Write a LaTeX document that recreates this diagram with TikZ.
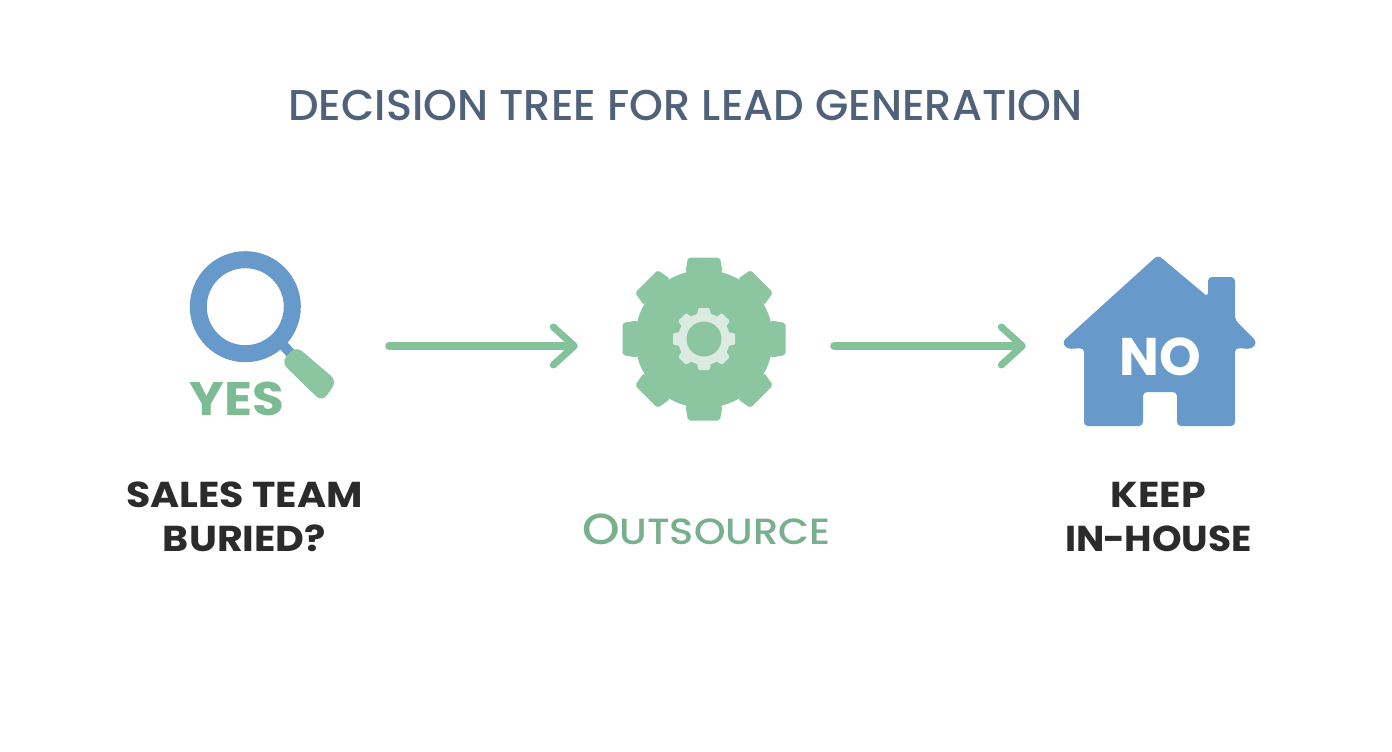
\documentclass[tikz,border=0pt]{standalone}
\usepackage{fontspec}
\usetikzlibrary{arrows.meta}
\setmainfont{Poppins}
\newfontfamily\wideb[FakeStretch=1.1]{Poppins}
\newfontfamily\medf[UprightFont=* Medium]{Poppins}
\newfontfamily\widem[UprightFont=* Medium,FakeStretch=1.1]{Poppins}
\definecolor{blueI}{HTML}{6799CB}
\definecolor{greenI}{HTML}{8CC6A0}
\definecolor{greenA}{HTML}{84C29A}
\definecolor{greenT}{HTML}{7DBB94}
\definecolor{greenO}{HTML}{78B08E}
\definecolor{titleC}{HTML}{4F6279}
\definecolor{darkT}{HTML}{2B2B2B}
\definecolor{gearL}{HTML}{DCEBE1}
\tikzset{
  x=1pt,y=-1pt,
  conn/.style={draw=greenA,line width=8pt,line cap=round,
    -{Straight Barb[round,length=21pt,width=38pt,line width=7pt]}},
  lab/.style={font=\wideb\fontsize{36}{44}\selectfont\bfseries,text=darkT,align=center,inner sep=0pt},
  anchorbox/.style={inner sep=0pt,minimum height=10pt},
}
\newcommand{\gearshape}[7]{% x y bodyr tipr halfbase halftip corner
  \begin{scope}[shift={(#1,#2)}]
    \fill (0,0) circle (#3pt);
    \foreach \k in {0,45,...,315}{
      \begin{scope}[rotate=\k]
        \fill[rounded corners=#7pt] (-#5,-#3+2) -- (-#6,-#4) -- (#6,-#4) -- (#5,-#3+2) -- cycle;
      \end{scope}}
  \end{scope}}
\begin{document}
\begin{tikzpicture}
\useasboundingbox (0,0) rectangle (1392,752);
\fill[white] (0,0) rectangle (1392,752);
\node[inner sep=0pt,text=titleC,anchor=base] (title) at (685.5,120) {\medf\fontsize{43.1}{46}\selectfont DECISION TREE FOR LEAD GENERATION};
% magnifier
\draw[blueI,line width=10pt] (283,345) -- (296,359);
\draw[blueI,line width=17pt] (245.3,306.7) circle (47pt);
\fill[greenI,rounded corners=8pt] (281,362) -- (296,346) -- (337,381) -- (322,402) -- cycle;
\node[inner sep=0pt,text=greenT,font=\wideb\fontsize{47}{50}\selectfont\bfseries,anchor=base] (yes) at (237,415) {YES};
% gear
\begin{scope}[color=greenI,fill=greenI]
\gearshape{704}{339}{69}{81.5}{18.5}{16}{2}
\end{scope}
\begin{scope}[color=gearL,fill=gearL]
\gearshape{704}{339}{26}{31}{7}{5.5}{1}
\end{scope}
\fill[greenI] (704,339) circle (17.5pt);
% house
\fill[blueI,rounded corners=4pt] (1158,255) -- (1208,297) -- (1208,277) -- (1235,277) -- (1235,320) -- (1257,342) -- (1252,349) -- (1235,348) -- (1235,426) -- (1177,426) -- (1177,392) -- (1143,392) -- (1143,426) -- (1084,426) -- (1084,348) -- (1067,349) -- (1062,342) -- cycle;
\node[inner sep=0pt,text=white,font=\fontsize{53}{56}\selectfont\bfseries,anchor=base] (no) at (1160,375) {NO};
% invisible frames that the arrows run between
\node[anchorbox,minimum width=204pt] (srcbox) at (287,346) {};
\node[anchorbox,minimum width=256pt] (gearbox) at (706,346) {};
\node[anchorbox,minimum width=198pt] (housebox) at (1125,346) {};
\draw[conn] (srcbox.east) -- (gearbox.west);
\draw[conn] (gearbox.east) -- (housebox.west);
% labels
\node[lab,anchor=base] (sales) at (244.5,551) {SALES TEAM\\BURIED?};
\node[lab,anchor=base] (keep) at (1158.5,551) {KEEP\\\scalebox{0.95}[1]{IN\kern-1pt-\kern-1pt HOUSE}};
\node[inner sep=0pt,text=greenO,anchor=base] (out) at (706.5,544) {\widem\fontsize{43.5}{48}\selectfont O\fontsize{36.5}{40}\selectfont UTSOURCE};
\end{tikzpicture}
\end{document}
